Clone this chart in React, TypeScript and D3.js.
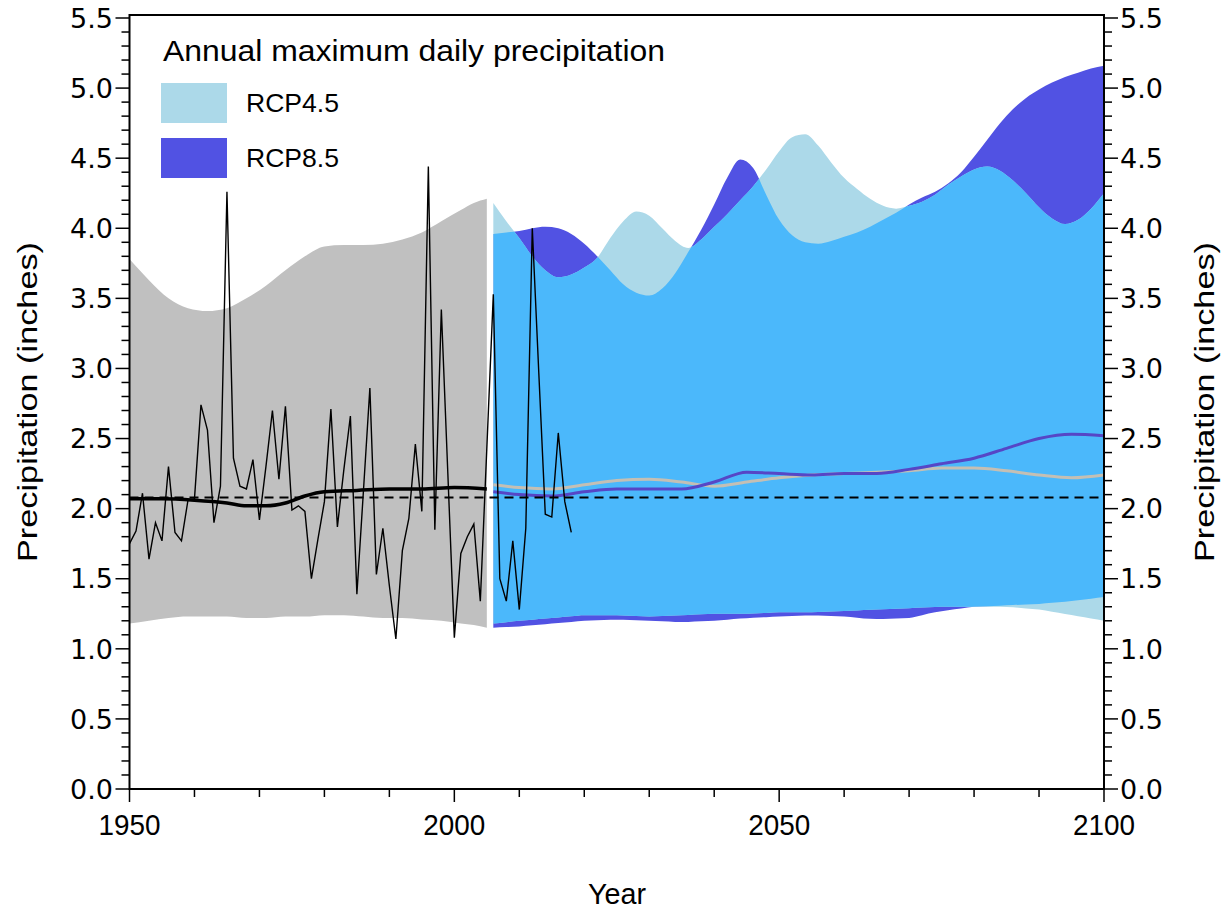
import React from "react";
import * as d3 from "d3";

// ---------------- DATA ----------------
const obsYears = d3.range(1950, 2019);
const obsValues = [
  1.75, 1.84, 2.11, 1.64, 1.9, 1.77, 2.3, 1.83, 1.77, 2.06,
  2.07, 2.74, 2.56, 1.9, 2.16, 4.26, 2.36, 2.16, 2.14, 2.35,
  1.92, 2.3, 2.7, 2.21, 2.73, 1.99, 2.02, 1.98, 1.5, 1.78,
  2.05, 2.71, 1.87, 2.28, 2.66, 1.39, 2.12, 2.86, 1.53, 1.86,
  1.45, 1.07, 1.7, 1.93, 2.46, 1.98, 4.44, 1.85, 3.42, 2.25,
  1.08, 1.68, 1.8, 1.89, 1.34, 2.43, 3.53, 1.5, 1.34, 1.77,
  1.28, 1.86, 4.0, 2.97, 1.96, 1.94, 2.54, 2.05, 1.83,
];

const histMeanYears = [1950, 1955, 1960, 1965, 1968, 1971, 1974, 1977, 1980, 1985, 1990, 1995, 2000, 2005];
const histMean = [2.07, 2.07, 2.06, 2.04, 2.02, 2.02, 2.04, 2.09, 2.12, 2.13, 2.14, 2.14, 2.15, 2.14];

const histBandYears = [1950, 1953, 1956, 1959, 1962, 1965, 1968, 1971, 1974, 1977, 1980, 1983, 1986, 1989, 1992, 1995, 1998, 2001, 2003, 2005];
const histUpper = [3.78, 3.63, 3.5, 3.43, 3.41, 3.43, 3.5, 3.59, 3.7, 3.8, 3.87, 3.88, 3.88, 3.89, 3.92, 3.97, 4.05, 4.13, 4.18, 4.21];
const histLower = [1.18, 1.2, 1.22, 1.23, 1.23, 1.23, 1.22, 1.22, 1.23, 1.23, 1.24, 1.24, 1.23, 1.22, 1.22, 1.21, 1.2, 1.18, 1.17, 1.15];

const baseline = 2.08;

const futUpperYears = d3.range(2006, 2101, 2);
const rcp45Upper = [
  4.18, 4.05, 3.93, 3.8, 3.7, 3.65, 3.67, 3.72, 3.79, 3.93,
  4.05, 4.12, 4.09, 4.0, 3.91, 3.86, 3.92, 4.01, 4.1, 4.2,
  4.3, 4.42, 4.55, 4.65, 4.67, 4.59, 4.47, 4.36, 4.28, 4.21,
  4.16, 4.14, 4.16, 4.19, 4.24, 4.31, 4.37, 4.42, 4.44, 4.41,
  4.34, 4.25, 4.15, 4.07, 4.03, 4.06, 4.14, 4.25,
];
const rcp85Upper = [
  3.96, 3.97, 3.98, 4.0, 4.01, 4.0, 3.96, 3.89, 3.8, 3.7,
  3.6, 3.54, 3.52, 3.57, 3.68, 3.83, 3.99, 4.17, 4.36, 4.49,
  4.43, 4.24, 4.06, 3.95, 3.9, 3.89, 3.91, 3.94, 3.97, 4.01,
  4.06, 4.11, 4.17, 4.22, 4.26, 4.32, 4.4, 4.51, 4.63, 4.75,
  4.85, 4.93, 4.99, 5.04, 5.08, 5.11, 5.14, 5.16,
];

const futYears = [2006, 2010, 2015, 2020, 2025, 2030, 2035, 2040, 2045, 2050, 2055, 2060, 2065, 2070, 2075, 2080, 2085, 2090, 2095, 2100];
const rcp85Lower = [1.15, 1.16, 1.18, 1.2, 1.21, 1.2, 1.19, 1.2, 1.22, 1.23, 1.24, 1.23, 1.21, 1.22, 1.27, 1.3, 1.31, 1.32, 1.34, 1.37];
const rcp45Lower = [1.18, 1.2, 1.22, 1.24, 1.24, 1.23, 1.24, 1.25, 1.25, 1.26, 1.26, 1.27, 1.28, 1.29, 1.3, 1.3, 1.3, 1.28, 1.24, 1.2];
const rcp85Median = [2.12, 2.1, 2.09, 2.12, 2.14, 2.14, 2.14, 2.19, 2.26, 2.25, 2.24, 2.25, 2.25, 2.28, 2.32, 2.36, 2.43, 2.5, 2.53, 2.52];
const rcp45Median = [2.17, 2.15, 2.14, 2.17, 2.2, 2.21, 2.19, 2.16, 2.19, 2.22, 2.24, 2.25, 2.26, 2.27, 2.29, 2.29, 2.27, 2.24, 2.22, 2.24];

const xMajorTicks = [1950, 2000, 2050, 2100];
const xMinorTicks = d3.range(1950, 2101, 10);
const yMajorTicks = [0, 0.5, 1, 1.5, 2, 2.5, 3, 3.5, 4, 4.5, 5, 5.5];
const yMinorTicks = d3.range(0, 56).map((i) => i / 10);

const legendTitle = "Annual maximum daily precipitation";
const legendItems = ["RCP4.5", "RCP8.5"];

// ---------------- COLORS ----------------
const C_GRAY = "#c0c0c0";
const C_LIGHT = "#acd9e9";
const C_DARK = "#5152e3";
const C_AZURE = "#4bb8fb";
const C_MED85 = "#5646c6";
const C_MED45 = "#c4bfb4";

export default function App() {
  const W = 1231, H = 909;
  const left = 129.5, right = 1104, top = 15, bottom = 789;
  const X = d3.scaleLinear().domain([1950, 2100]).range([left, right]);
  const Y = d3.scaleLinear().domain([0, 5.5]).range([bottom, 18]);

  const interp = (xs: number[], ys: number[]) => (t: number) => {
    const i = Math.max(0, Math.min(xs.length - 2, d3.bisectRight(xs, t) - 1));
    const f = (t - xs[i]) / (xs[i + 1] - xs[i]);
    return ys[i] + (ys[i + 1] - ys[i]) * f;
  };

  const curve = d3.curveMonotoneX;

  const histBand = histBandYears.map((yr, i) => ({ x: yr, lo: histLower[i], hi: histUpper[i] }));
  const lo45 = interp(futYears, rcp45Lower);
  const lo85 = interp(futYears, rcp85Lower);
  const band45 = futUpperYears.map((yr, i) => ({ x: yr, lo: lo45(yr), hi: rcp45Upper[i] }));
  const band85 = futUpperYears.map((yr, i) => ({ x: yr, lo: lo85(yr), hi: rcp85Upper[i] }));

  const area = d3
    .area<{ x: number; lo: number; hi: number }>()
    .x((d) => X(d.x))
    .y0((d) => Y(d.lo))
    .y1((d) => Y(d.hi))
    .curve(curve);

  const line = d3
    .line<[number, number]>()
    .x((d) => X(d[0]))
    .y((d) => Y(d[1]))
    .curve(curve);
  const lineStraight = d3
    .line<[number, number]>()
    .x((d) => X(d[0]))
    .y((d) => Y(d[1]));

  const obs: [number, number][] = obsYears.map((y, i) => [y, obsValues[i]]);
  const hm: [number, number][] = histMeanYears.map((y, i) => [y, histMean[i]]);
  const m85: [number, number][] = futYears.map((y, i) => [y, rcp85Median[i]]);
  const m45: [number, number][] = futYears.map((y, i) => [y, rcp45Median[i]]);

  const tickFont = "'DejaVu Sans', Verdana, sans-serif";
  const textFont = "'Liberation Sans', Arial, sans-serif";

  return (
    <svg width={W} height={H} style={{ position: "absolute", left: 0, top: 0, background: "#fff" }}>
      <defs>
        <clipPath id="clip85">
          <path d={area(band85) || ""} />
        </clipPath>
      </defs>

      <path d={area(histBand) || ""} fill={C_GRAY} />

      <path d={area(band85) || ""} fill={C_DARK} />
      <path d={area(band45) || ""} fill={C_LIGHT} />
      <path d={area(band45) || ""} fill={C_AZURE} clipPath="url(#clip85)" />

      <path d={line(m45) || ""} fill="none" stroke={C_MED45} strokeWidth={3} />
      <path d={line(m85) || ""} fill="none" stroke={C_MED85} strokeWidth={3} />

      <line x1={left} x2={right} y1={Y(baseline)} y2={Y(baseline)} stroke="#000" strokeWidth={2} strokeDasharray="9,6" />

      <path d={line(hm) || ""} fill="none" stroke="#000" strokeWidth={3.5} />

      <path d={lineStraight(obs) || ""} fill="none" stroke="#000" strokeWidth={1.4} strokeLinejoin="miter" />

      <rect x={left} y={top} width={right - left} height={bottom - top} fill="none" stroke="#000" strokeWidth={2} />

      {yMinorTicks.map((v) => {
        const major = Math.abs(v * 2 - Math.round(v * 2)) < 1e-6;
        const len = major ? 14 : 8;
        return (
          <g key={"yt" + v}>
            <line x1={left - len} x2={left} y1={Y(v)} y2={Y(v)} stroke="#000" strokeWidth={1.5} />
            <line x1={right} x2={right + len} y1={Y(v)} y2={Y(v)} stroke="#000" strokeWidth={1.5} />
          </g>
        );
      })}
      {yMajorTicks.map((v) => (
        <g key={"yl" + v} fontFamily={tickFont} fontSize={27} fill="#000">
          <text x={113} y={Y(v)} dy="0.36em" textAnchor="end">
            {v.toFixed(1)}
          </text>
          <text x={1120} y={Y(v)} dy="0.36em" textAnchor="start">
            {v.toFixed(1)}
          </text>
        </g>
      ))}

      {xMinorTicks.map((yr) => {
        const major = xMajorTicks.includes(yr);
        return (
          <line key={"xt" + yr} x1={X(yr)} x2={X(yr)} y1={bottom} y2={bottom + (major ? 13 : 8)} stroke="#000" strokeWidth={1.5} />
        );
      })}
      {xMajorTicks.map((yr) => (
        <text key={"xl" + yr} x={X(yr)} y={835} textAnchor="middle" fontFamily={textFont} fontSize={30} textLength={62} lengthAdjust="spacingAndGlyphs">
          {yr}
        </text>
      ))}

      <text x={617} y={904} textAnchor="middle" fontFamily={textFont} fontSize={29} textLength={58} lengthAdjust="spacingAndGlyphs">
        Year
      </text>
      <text transform={`translate(37,${(top + bottom) / 2}) rotate(-90)`} textAnchor="middle" fontFamily={textFont} fontSize={28} textLength={320} lengthAdjust="spacingAndGlyphs">
        Precipitation (inches)
      </text>
      <text transform={`translate(1214,${(top + bottom) / 2}) rotate(-90)`} textAnchor="middle" fontFamily={textFont} fontSize={28} textLength={320} lengthAdjust="spacingAndGlyphs">
        Precipitation (inches)
      </text>

      <text x={163} y={61} fontFamily={textFont} fontSize={29} textLength={502} lengthAdjust="spacingAndGlyphs">
        {legendTitle}
      </text>
      {legendItems.map((name, i) => (
        <g key={name}>
          <rect x={161} y={83 + i * 55} width={66} height={40} fill={i === 0 ? C_LIGHT : C_DARK} />
          <text x={246} y={112 + i * 55} fontFamily={textFont} fontSize={26} textLength={93} lengthAdjust="spacingAndGlyphs">
            {name}
          </text>
        </g>
      ))}
    </svg>
  );
}
